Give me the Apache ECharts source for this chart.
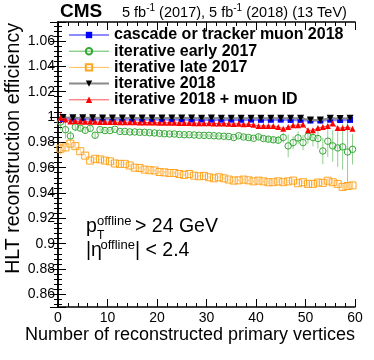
<!doctype html>
<html>
<head>
<meta charset="utf-8">
<title>HLT reconstruction efficiency vs number of primary vertices</title>
<script src="https://cdn.jsdelivr.net/npm/echarts@6/dist/echarts.min.js"></script>
<style>
    html, body { margin: 0; padding: 0; background: #fff; }
    #chart { width: 374px; height: 360px; }
</style>
</head>
<body>
<div id="chart"></div>
<script type="text/javascript">
var FONT = '"Liberation Sans", Arial, Helvetica, sans-serif';

// bin centres (1-wide bins and 2-wide bins)
var nPV = [0.5, 1.5, 2.5, 3.5, 4.5, 5.5, 6.5, 7.5, 8.5, 9.5,
    10.5, 11.5, 12.5, 13.5, 14.5, 15.5, 16.5, 17.5, 18.5, 19.5,
    20.5, 21.5, 22.5, 23.5, 24.5, 25.5, 26.5, 27.5, 28.5, 29.5,
    30.5, 31.5, 32.5, 33.5, 34.5, 35.5, 36.5, 37.5, 38.5, 39.5,
    40.5, 41.5, 42.5, 43.5, 44.5, 45.5, 46.5, 47.5, 48.5, 49.5,
    50.5, 51.5, 52.5, 53.5, 54.5, 55.5, 56.5, 57.5, 58.5, 59.5];
var nPVWide = [1, 3, 5, 7, 9, 11, 13, 15, 17, 19, 21, 23, 25, 27, 29,
    31, 33, 35, 37, 39, 41, 43, 45, 47, 49, 51, 53, 55, 57, 59];

// cascade or tracker muon 2018 (2-wide bins)
var cascade2018 = [0.9985, 0.9983, 0.9982, 0.9982, 0.9982, 0.9981, 0.9981, 0.9981, 0.9980, 0.9981,
    0.9980, 0.9980, 0.9980, 0.9979, 0.9980, 0.9979, 0.9979, 0.9979, 0.9978, 0.9979,
    0.9978, 0.9978, 0.9979, 0.9977, 0.9977, 0.9972, 0.9972, 0.9978, 0.9976, 0.9977];

// iterative 2018 (2-wide bins)
var iterative2018 = [0.9996, 0.9994, 0.9994, 0.9994, 0.9993, 0.9993, 0.9993, 0.9993, 0.9992, 0.9993,
    0.9992, 0.9992, 0.9992, 0.9992, 0.9991, 0.9992, 0.9991, 0.9991, 0.9991, 0.9991,
    0.9991, 0.9990, 0.9990, 0.9990, 0.9990, 0.9976, 0.9977, 0.9990, 0.9989, 0.9990];

// iterative early 2017
var early2017 = [0.9960, 0.9900, 0.9850, 0.9921, 0.9912, 0.9895, 0.9910, 0.9856, 0.9900, 0.9893,
    0.9893, 0.9903, 0.9886, 0.9886, 0.9882, 0.9882, 0.9879, 0.9879, 0.9876, 0.9874,
    0.9871, 0.9868, 0.9866, 0.9866, 0.9862, 0.9860, 0.9860, 0.9858, 0.9856, 0.9855,
    0.9855, 0.9852, 0.9850, 0.9848, 0.9846, 0.9838, 0.9852, 0.9842, 0.9838, 0.9832,
    0.9843, 0.9830, 0.9825, 0.9820, 0.9817, 0.9838, 0.9772, 0.9798, 0.9835, 0.9798,
    0.9848, 0.9838, 0.9830, 0.9732, 0.9809, 0.9772, 0.9756, 0.9764, 0.9724, 0.9745];
var early2017Err = [0.006, 0.007, 0.004, 0.003, 0.0025, 0.002, 0.002, 0.0025, 0.0015, 0.0012,
    0.001, 0.001, 0.001, 0.001, 0.001, 0.001, 0.001, 0.001, 0.001, 0.001,
    0.001, 0.001, 0.001, 0.001, 0.001, 0.001, 0.001, 0.001, 0.001, 0.001,
    0.0012, 0.0012, 0.0012, 0.0012, 0.0012, 0.0015, 0.0015, 0.0015, 0.0015, 0.0015,
    0.002, 0.002, 0.0025, 0.0025, 0.003, 0.004, 0.009, 0.005, 0.005, 0.006,
    0.006, 0.007, 0.008, 0.0105, 0.0125, 0.0125, 0.015, 0.018, 0.025, 0.012];

// iterative late 2017
var late2017 = [0.9750, 0.9760, 0.9790, 0.9770, 0.9730, 0.9695, 0.9656, 0.9670, 0.9665, 0.9656,
    0.9650, 0.9633, 0.9630, 0.9630, 0.9617, 0.9600, 0.9597, 0.9585, 0.9580, 0.9578,
    0.9566, 0.9563, 0.9558, 0.9558, 0.9550, 0.9543, 0.9550, 0.9537, 0.9532, 0.9535,
    0.9524, 0.9516, 0.9524, 0.9516, 0.9506, 0.9498, 0.9500, 0.9506, 0.9500, 0.9492,
    0.9498, 0.9492, 0.9485, 0.9485, 0.9492, 0.9485, 0.9492, 0.9498, 0.9477, 0.9485,
    0.9472, 0.9472, 0.9482, 0.9480, 0.9497, 0.9485, 0.9472, 0.9448, 0.9455, 0.9460];
var late2017Err = [0.005, 0.004, 0.003, 0.0025, 0.002, 0.0015, 0.001, 0.001, 0.001, 0.001,
    0.001, 0.001, 0.001, 0.001, 0.001, 0.001, 0.001, 0.001, 0.001, 0.001,
    0.001, 0.001, 0.001, 0.001, 0.001, 0.001, 0.001, 0.001, 0.001, 0.001,
    0.001, 0.001, 0.001, 0.001, 0.001, 0.001, 0.001, 0.001, 0.001, 0.001,
    0.0015, 0.0015, 0.0015, 0.0015, 0.0015, 0.0015, 0.0015, 0.0015, 0.0015, 0.0015,
    0.002, 0.002, 0.002, 0.002, 0.002, 0.003, 0.003, 0.003, 0.003, 0.003];

// iterative 2018 + muon ID
var muonId2018 = [0.9995, 0.9980, 0.9965, 0.9968, 0.9965, 0.9962, 0.9963, 0.9962, 0.9960, 0.9961,
    0.9960, 0.9960, 0.9959, 0.9959, 0.9958, 0.9958, 0.9957, 0.9957, 0.9956, 0.9956,
    0.9955, 0.9955, 0.9954, 0.9954, 0.9953, 0.9953, 0.9952, 0.9951, 0.9951, 0.9950,
    0.9950, 0.9949, 0.9948, 0.9948, 0.9946, 0.9945, 0.9946, 0.9943, 0.9944, 0.9938,
    0.9929, 0.9929, 0.9929, 0.9929, 0.9921, 0.9908, 0.9921, 0.9935, 0.9935, 0.9940,
    0.9895, 0.9895, 0.9913, 0.9921, 0.9929, 0.9948, 0.9913, 0.9913, 0.9921, 0.9908];
var muonId2018Err = [0.0045, 0.003, 0.0015, 0.001, 0.0008, 0.0006, 0.0005, 0.0005, 0.0005, 0.0005,
    0.0005, 0.0005, 0.0005, 0.0005, 0.0005, 0.0005, 0.0005, 0.0005, 0.0005, 0.0005,
    0.0005, 0.0005, 0.0005, 0.0005, 0.0005, 0.0005, 0.0005, 0.0005, 0.0005, 0.0005,
    0.0005, 0.0005, 0.0005, 0.0005, 0.0005, 0.0006, 0.0006, 0.0006, 0.0007, 0.0007,
    0.001, 0.001, 0.001, 0.001, 0.001, 0.001, 0.001, 0.001, 0.001, 0.001,
    0.0015, 0.0015, 0.0015, 0.0015, 0.0015, 0.0015, 0.0015, 0.0015, 0.0015, 0.0015];

var names = ['cascade or tracker muon 2018', 'iterative early 2017', 'iterative late 2017',
    'iterative 2018', 'iterative 2018 + muon ID'];

var C_BLUE = '#0000ff', C_GREEN = '#36a836', C_ORANGE = '#ffa524', C_BLACK = '#000000', C_RED = '#ff0000';

function pairs(xs, ys) {
    return xs.map(function (x, i) { return [x, ys[i]]; });
}
function bars(xs, ys, es) {
    return xs.map(function (x, i) { return [x, ys[i] - es[i], ys[i] + es[i]]; });
}
function errorSeries(xs, ys, es, color) {
    return {
        type: 'custom', z: 1, silent: true, clip: true,
        data: bars(xs, ys, es),
        encode: { x: 0, y: [1, 2] },
        renderItem: function (params, api) {
            var lo = api.coord([api.value(0), api.value(1)]);
            var hi = api.coord([api.value(0), api.value(2)]);
            return {
                type: 'line',
                shape: { x1: lo[0], y1: lo[1], x2: hi[0], y2: hi[1] },
                style: { stroke: color, lineWidth: 1 }
            };
        }
    };
}

// only label the 0.02 steps, like the original
function yLabel(v) {
    var k = Math.round(v * 50);
    if (Math.abs(v * 50 - k) > 1e-6 || v < 0.855 || v > 1.07) return '';
    return String(+(k / 50).toFixed(2));
}

var frameLine = { lineStyle: { color: '#000', width: 1.5 } };

var option = {
    animation: false,
    backgroundColor: '#fff',
    grid: { left: 58, right: 19, top: 22, bottom: 53 },
    xAxis: [{
        type: 'value', min: 0, max: 60, interval: 10, position: 'bottom',
        axisLine: frameLine,
        axisTick: { inside: true, length: 8, lineStyle: { color: '#000' } },
        minorTick: { show: true, splitNumber: 5, length: 4, lineStyle: { color: '#000' } },
        axisLabel: { fontSize: 14, fontFamily: FONT, color: '#000', margin: 4 },
        splitLine: { show: false }
    }, {
        type: 'value', min: 0, max: 60, interval: 10, position: 'top',
        axisLine: frameLine,
        axisTick: { inside: true, length: 8, lineStyle: { color: '#000' } },
        minorTick: { show: true, splitNumber: 5, length: 4, lineStyle: { color: '#000' } },
        axisLabel: { show: false },
        splitLine: { show: false }
    }],
    yAxis: [{
        type: 'value', min: 0.85, max: 1.075, splitNumber: 10, position: 'left',
        axisLine: frameLine,
        axisTick: { inside: true, length: 8, lineStyle: { color: '#000' } },
        minorTick: { show: true, splitNumber: 5, length: 4, lineStyle: { color: '#000' } },
        axisLabel: { fontSize: 14, fontFamily: FONT, color: '#000', margin: 3, formatter: yLabel },
        splitLine: { show: false }
    }, {
        type: 'value', min: 0.85, max: 1.075, splitNumber: 10, position: 'right',
        axisLine: frameLine,
        axisTick: { inside: true, length: 8, lineStyle: { color: '#000' } },
        minorTick: { show: true, splitNumber: 5, length: 4, lineStyle: { color: '#000' } },
        axisLabel: { show: false },
        splitLine: { show: false }
    }],
    legend: {
        orient: 'vertical', left: 68, top: 27, padding: 0,
        itemWidth: 40, itemHeight: 8, itemGap: 0.2,
        textStyle: { fontSize: 16, fontWeight: 'bold', fontFamily: FONT, color: '#000', lineHeight: 16 },
        data: [
            { name: names[0], lineStyle: { color: '#8c8cff', width: 2, opacity: 1 } },
            { name: names[1], lineStyle: { color: '#5cbc5c', width: 1, opacity: 1 } },
            { name: names[2], lineStyle: { color: '#ffbb55', width: 1, opacity: 1 } },
            { name: names[3], lineStyle: { color: '#8a8a8a', width: 2, opacity: 1 } },
            { name: names[4], lineStyle: { color: '#ff5050', width: 1, opacity: 1 } }
        ]
    },
    graphic: [
        { type: 'text', x: 60, y: 12, style: { text: 'CMS', font: 'bold 19px ' + FONT, fill: '#000', verticalAlign: 'middle' } },
        { type: 'text', x: 122, y: 13, style: {
            text: '5 fb{s|-1} (2017), 5 fb{s|-1} (2018) (13 TeV)',
            fontSize: 14.5, fontFamily: FONT, fill: '#000', lineHeight: 20, verticalAlign: 'middle',
            rich: { s: { fontSize: 10, fontFamily: FONT, lineHeight: 10, verticalAlign: 'top', fill: '#000' } }
        } },
        // axis titles
        { type: 'text', x: 355, y: 335, style: { text: 'Number of reconstructed primary vertices', fontSize: 18, fontFamily: FONT, fill: '#000', align: 'right', verticalAlign: 'middle' } },
        { type: 'text', x: 14, y: 23, rotation: Math.PI / 2, style: { text: 'HLT reconstruction efficiency', fontSize: 19.6, fontFamily: FONT, fill: '#000', align: 'right', verticalAlign: 'middle' } },
        // selection label
        { type: 'text', x: 86, y: 227, style: { text: 'p', fontSize: 19.5, fontFamily: FONT, fill: '#000', verticalAlign: 'middle' } },
        { type: 'text', x: 97, y: 221.5, style: { text: 'offline', fontSize: 13, fontFamily: FONT, fill: '#000', verticalAlign: 'middle' } },
        { type: 'text', x: 97, y: 236, style: { text: 'T', fontSize: 12, fontFamily: FONT, fill: '#000', verticalAlign: 'middle' } },
        { type: 'text', x: 135, y: 227, style: { text: '> 24 GeV', fontSize: 19.5, fontFamily: FONT, fill: '#000', verticalAlign: 'middle' } },
        { type: 'text', x: 86, y: 251, style: { text: '|\u03b7', fontSize: 19.5, fontFamily: FONT, fill: '#000', verticalAlign: 'middle' } },
        { type: 'text', x: 100.5, y: 245.5, style: { text: 'offline', fontSize: 13, fontFamily: FONT, fill: '#000', verticalAlign: 'middle' } },
        { type: 'text', x: 135, y: 251, style: { text: '| < 2.4', fontSize: 19.5, fontFamily: FONT, fill: '#000', verticalAlign: 'middle' } }
    ],
    series: [
        errorSeries(nPV, early2017, early2017Err, 'rgba(54,168,54,0.55)'),
        errorSeries(nPV, late2017, late2017Err, 'rgba(255,165,36,0.55)'),
        errorSeries(nPV, muonId2018, muonId2018Err, 'rgba(255,0,0,0.6)'),
        {
            name: names[0], type: 'line', z: 2, data: pairs(nPVWide, cascade2018),
            symbol: 'rect', symbolSize: 6, showAllSymbol: true,
            itemStyle: { color: C_BLUE },
            lineStyle: { color: '#8c8cff', width: 2.5 }
        },
        {
            name: names[1], type: 'line', z: 3, data: pairs(nPV, early2017),
            symbol: 'circle', symbolSize: 6.5, showAllSymbol: true,
            itemStyle: { color: 'rgba(0,0,0,0)', borderColor: C_GREEN, borderWidth: 1 },
            lineStyle: { opacity: 0 }
        },
        {
            name: names[2], type: 'line', z: 3, data: pairs(nPV, late2017),
            symbol: 'rect', symbolSize: 7, showAllSymbol: true,
            itemStyle: { color: 'rgba(0,0,0,0)', borderColor: C_ORANGE, borderWidth: 1 },
            lineStyle: { opacity: 0 }
        },
        {
            name: names[3], type: 'line', z: 4, data: pairs(nPVWide, iterative2018),
            symbol: 'triangle', symbolRotate: 180, symbolSize: 7, showAllSymbol: true,
            itemStyle: { color: C_BLACK },
            lineStyle: { color: '#8a8a8a', width: 2 }
        },
        {
            name: names[4], type: 'line', z: 5, data: pairs(nPV, muonId2018),
            symbol: 'triangle', symbolSize: 6, showAllSymbol: true,
            itemStyle: { color: C_RED },
            lineStyle: { color: '#ff5050', width: 1 }
        }
    ]
};

var chart = echarts.init(document.getElementById('chart'), null, { renderer: 'canvas' });
chart.setOption(option);
</script>
</body>
</html>
